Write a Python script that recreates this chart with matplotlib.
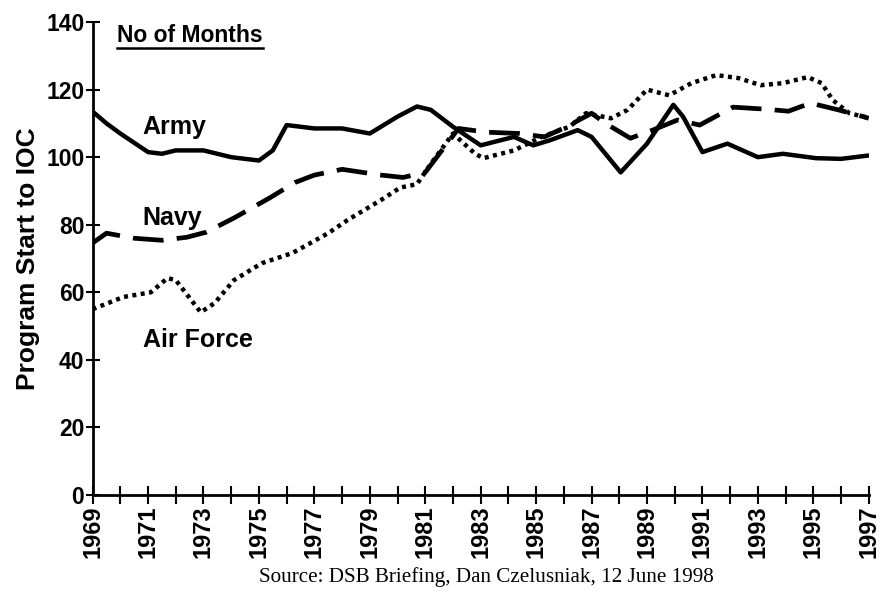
import matplotlib
matplotlib.use("Agg")
import matplotlib.pyplot as plt
from matplotlib.lines import Line2D

# datos (anio, meses)
army_years = [1969, 1969.5, 1970, 1971, 1971.5, 1972, 1973, 1974, 1975, 1975.5, 1976, 1977, 1978, 1979,
              1980, 1980.7, 1981.2, 1982, 1983, 1984.2, 1984.9, 1985.5, 1986.5, 1987, 1988.05,
              1989, 1989.95, 1990.3, 1991, 1991.9, 1993, 1993.9, 1995.1, 1996, 1997]
army_vals = [113.5, 110, 107, 101.5, 101, 102, 102, 100, 99, 102, 109.5, 108.5, 108.5, 107,
             112, 115, 114, 109, 103.5, 106, 103.5, 105, 108, 106, 95.5,
             104, 115.5, 112, 101.5, 104, 100, 101, 99.7, 99.5, 100.5]

navy_years = [1969, 1969.5, 1970.5, 1971.5, 1972.4, 1973.1, 1974.1, 1975.4, 1976.3, 1977, 1978, 1979.4, 1980.2,
              1981, 1982.2, 1983.2, 1984.4, 1985.3, 1986.1, 1987, 1987.5, 1988.4, 1989.2, 1990.1,
              1990.9, 1992.1, 1993.3, 1994.1, 1994.9, 1995.9, 1996.8, 1997]
navy_vals = [74.6, 77.5, 76, 75.4, 76.3, 77.8, 82, 88, 92.5, 94.7, 96.4, 94.7, 94,
             95.5, 108.5, 107.4, 107, 106, 109, 113, 110, 105.6, 108, 111,
             109.5, 114.8, 114.2, 113.6, 116, 114, 112, 111.5]

af_years = [1969, 1970.1, 1971.1, 1971.7, 1972, 1972.9, 1973.4, 1974.1, 1975.1, 1976.2, 1977.5,
            1978.2, 1979.4, 1980.1, 1980.7, 1981.2, 1982, 1982.8, 1983.1, 1984.2, 1985.2, 1986.2,
            1986.8, 1987.7, 1988.3, 1989, 1989.8, 1990.6, 1991.5, 1992.3, 1993.1, 1993.9, 1994.8,
            1995.3, 1995.7, 1996.3, 1996.9]
af_vals = [55, 58.6, 60, 64.2, 63.6, 54.1, 56.8, 63.6, 68.6, 71.6, 77.5,
           81.4, 87.3, 91, 92, 98, 107, 101, 99.7, 102, 106, 109,
           113, 111.5, 114, 120, 118.3, 121.9, 124.3, 123.4, 121.3, 121.9, 123.7,
           121.9, 116.9, 113, 111.8]

y_ticks = [0, 20, 40, 60, 80, 100, 120, 140]
year_ticks = list(range(1969, 1998))
year_labels = [str(a) if (a - 1969) % 2 == 0 else "" for a in year_ticks]

plt.rcParams['font.family'] = ['Liberation Sans', 'DejaVu Sans']
plt.rcParams['font.weight'] = 'bold'

fig = plt.figure(figsize=(8.82, 5.95), dpi=100)
ax = fig.add_axes([0.105, 0.168, 0.88, 0.795])

ax.plot(army_years, army_vals, color='black', lw=3.2, solid_joinstyle='round', solid_capstyle='round')
ax.plot(navy_years, navy_vals, color='black', lw=3.4, linestyle=(0, (6.5, 2.8)), dash_joinstyle='round')
ax.plot(af_years, af_vals, color='black', lw=3.2, linestyle=(0, (0.9, 1.0)))

ax.set_xlim(1969, 1997)
ax.set_ylim(0, 140)
ax.set_yticks(y_ticks)
ax.set_yticklabels([str(v) for v in y_ticks], fontsize=16.5, fontweight='bold')
ax.set_xticks(year_ticks)
ax.set_xticklabels(year_labels, rotation=90, fontsize=17, fontweight='bold')
ax.tick_params(axis='both', direction='inout', length=10, width=1.5, pad=1)
ax.tick_params(axis='x', length=13)

for lado in ['top', 'right']:
    ax.spines[lado].set_visible(False)
for lado in ['left', 'bottom']:
    ax.spines[lado].set_linewidth(2)

ax.set_ylabel('Program Start to IOC', fontsize=19, fontweight='bold', labelpad=4)

# etiquetas de las series
ax.text(1970.8, 108.8, 'Army', fontsize=18, fontweight='bold', va='center')
ax.text(1970.8, 82, 'Navy', fontsize=18, fontweight='bold', va='center')
ax.text(1970.8, 45.8, 'Air Force', fontsize=18, fontweight='bold', va='center')

titulo = ax.text(1969.88, 136, 'No of Months', fontsize=16.5, fontweight='bold', va='center')
fig.canvas.draw()
bb = titulo.get_window_extent().transformed(fig.transFigure.inverted())
fig.add_artist(Line2D([bb.x0, bb.x1], [bb.y0 - 0.002, bb.y0 - 0.002], color='black', lw=1.8))

fig.text(0.551, 0.03, 'Source: DSB Briefing, Dan Czelusniak, 12 June 1998',
         family='Liberation Serif', fontweight='normal', fontsize=15.2, ha='center', va='center')

fig.savefig('out.png', dpi=100)
